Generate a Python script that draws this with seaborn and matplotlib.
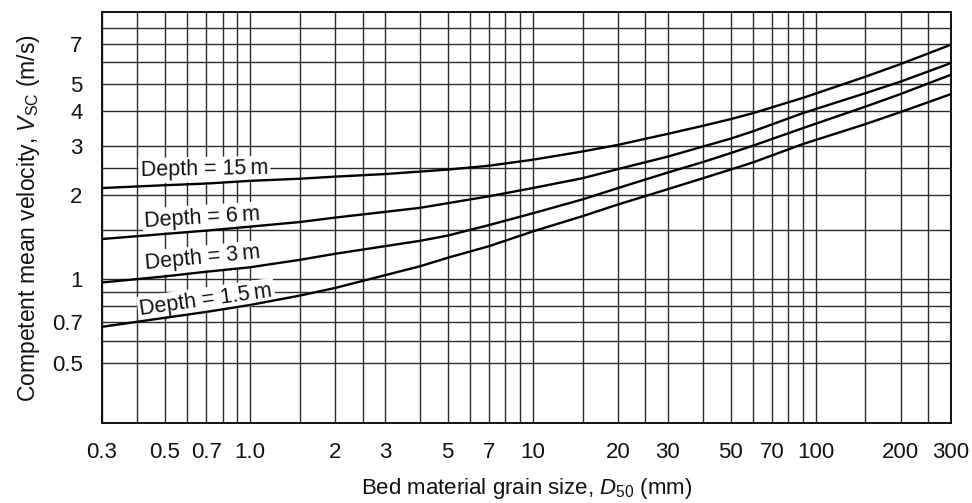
import numpy as np
import pandas as pd
import matplotlib
matplotlib.use("Agg")
import matplotlib.pyplot as plt
import seaborn as sns

# ---- data ----
grain_mm = [0.3, 0.5, 0.7, 1, 1.5, 2, 3, 4, 5, 7, 10, 15, 20, 30, 40, 50, 60, 90, 150, 200, 300]
v_15m = [2.12, 2.17, 2.20, 2.25, 2.29, 2.33, 2.38, 2.43, 2.47, 2.55, 2.68, 2.87, 3.03, 3.32, 3.55, 3.75, 3.94, 4.47, 5.33, 5.92, 6.94]
v_6m = [1.39, 1.45, 1.49, 1.54, 1.60, 1.66, 1.74, 1.80, 1.87, 1.98, 2.12, 2.30, 2.48, 2.75, 2.99, 3.19, 3.39, 3.94, 4.65, 5.12, 5.96]
v_3m = [0.97, 1.02, 1.06, 1.10, 1.17, 1.23, 1.31, 1.37, 1.43, 1.56, 1.72, 1.93, 2.12, 2.41, 2.63, 2.83, 3.01, 3.48, 4.16, 4.62, 5.41]
v_1_5m = [0.672, 0.724, 0.76, 0.805, 0.87, 0.927, 1.03, 1.11, 1.19, 1.31, 1.48, 1.68, 1.85, 2.10, 2.30, 2.47, 2.62, 3.05, 3.60, 3.98, 4.61]

depth_labels = ["Depth = 15\u2009m", "Depth = 6\u2009m", "Depth = 3\u2009m", "Depth = 1.5\u2009m"]
label_x = [0.69, 0.68, 0.68, 0.70]
label_y = [2.47, 1.66, 1.185, 0.84]
label_rot = [1.0, 3.5, 5.5, 8.0]

x_ticks = [0.3, 0.5, 0.7, 1.0, 2, 3, 5, 7, 10, 20, 30, 50, 70, 100, 200, 300]
x_ticklabels = ["0.3", "0.5", "0.7", "1.0", "2", "3", "5", "7", "10", "20", "30", "50", "70", "100", "200", "300"]
x_minor = [0.4, 0.6, 0.8, 0.9, 1.5, 2.5, 4, 6, 8, 9, 15, 25, 40, 60, 80, 90, 150, 250]
y_ticks = [0.5, 0.7, 1, 2, 3, 4, 5, 7]
y_ticklabels = ["0.5", "0.7", "1", "2", "3", "4", "5", "7"]
y_minor = [0.6, 0.8, 0.9, 1.5, 2.5, 6, 8]

series = {"15 m": v_15m, "6 m": v_6m, "3 m": v_3m, "1.5 m": v_1_5m}
df = pd.concat(
    [pd.DataFrame({"D50": grain_mm, "V": v, "depth": k}) for k, v in series.items()],
    ignore_index=True,
)

sns.set_style("white")
plt.rcParams["font.family"] = ["Liberation Sans", "DejaVu Sans"]
plt.rcParams["mathtext.fontset"] = "custom"
plt.rcParams["mathtext.rm"] = "Liberation Sans"
plt.rcParams["mathtext.it"] = "Liberation Sans:italic"

fig = plt.figure(figsize=(9.72, 5.03), dpi=100)
ax = fig.add_axes([0.105, 0.159, 0.873, 0.817])

sns.lineplot(
    data=df, x="D50", y="V", hue="depth",
    palette=["black"] * 4, linewidth=1.7, legend=False, ax=ax, zorder=4,
)

ax.set_xscale("log")
ax.set_yscale("log")
ax.set_xlim(0.3, 300)
ax.set_ylim(0.303, 9.1)

ax.set_xticks(x_ticks)
ax.set_xticklabels(x_ticklabels)
ax.set_xticks(x_minor, minor=True)
ax.set_xticklabels([], minor=True)
ax.set_yticks(y_ticks)
ax.set_yticklabels(y_ticklabels)
ax.set_yticks(y_minor, minor=True)
ax.set_yticklabels([], minor=True)

ax.tick_params(axis="both", which="both", length=0, labelsize=16, pad=14, colors="#111111")
ax.grid(True, which="both", color="#2a2a2a", linewidth=1.0)
ax.set_axisbelow(True)

for s in ax.spines.values():
    s.set_color("#111111")
    s.set_linewidth(1.4)

for t, xx, yy, r in zip(depth_labels, label_x, label_y, label_rot):
    ax.text(xx, yy, t, ha="center", va="center", rotation=r, fontsize=15.5,
            color="#111111", zorder=3,
            bbox=dict(facecolor="white", edgecolor="none", pad=1.5))

ax.set_xlabel("Bed material grain size, $\\mathit{D}_{50}$ (mm)", fontsize=16, labelpad=9, color="#111111")
ax.set_ylabel("Competent mean velocity, $\\mathit{V}_{\\mathrm{SC}}$ (m/s)", fontsize=16.5, labelpad=7, color="#111111")

fig.savefig("out.png", dpi=100, facecolor="white")
